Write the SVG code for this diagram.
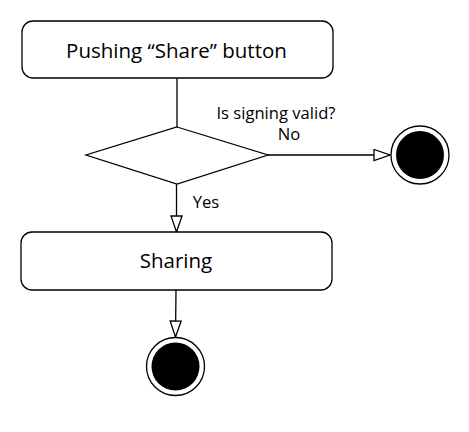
<svg xmlns="http://www.w3.org/2000/svg" width="469" height="432" viewBox="0 0 469 432">
<defs>
<style>
.box{fill:#fff;stroke:#000;stroke-width:1.3}
.edge{fill:none;stroke:#000;stroke-width:1.3}
.lbl{font-family:"Open Sans","Liberation Sans",Arial,sans-serif;fill:#000}
.ring{fill:#fff;stroke:#000;stroke-width:1.3}
.dot{fill:#000}
</style>
<marker id="open" markerUnits="userSpaceOnUse" markerWidth="20" markerHeight="14" refX="17" refY="6.5" orient="auto">
<path d="M1,1 L17,6.5 L1,12 Z" fill="#fff" stroke="#000" stroke-width="1.3"/>
</marker>
</defs>
<rect width="469" height="432" fill="#fff"/>
<g id="connectors">
<line class="edge" x1="177" y1="78" x2="177" y2="127"/>
<line class="edge" x1="268" y1="155" x2="390" y2="155" marker-end="url(#open)"/>
<line class="edge" x1="176.5" y1="184" x2="176.5" y2="232" marker-end="url(#open)"/>
<line class="edge" x1="176" y1="290" x2="175.5" y2="337" marker-end="url(#open)"/>
</g>
<g id="push">
<rect class="box" x="22" y="21" width="311" height="57" rx="11"/>
<text class="lbl" x="176.5" y="57.5" font-size="20.5" text-anchor="middle">Pushing “Share” button</text>
</g>
<g id="decision">
<polygon class="box" points="177,127 268,155 177,184 86,155"/>
<text class="lbl" x="276" y="119" font-size="16.6" text-anchor="middle">Is signing valid?</text>
<text class="lbl" x="289" y="140" font-size="16.6" text-anchor="middle">No</text>
<text class="lbl" x="206" y="208" font-size="16.6" text-anchor="middle">Yes</text>
</g>
<g id="end1">
<circle class="ring" cx="420" cy="155" r="29"/>
<circle class="dot" cx="420" cy="155" r="24"/>
</g>
<g id="sharing">
<rect class="box" x="21" y="232" width="311" height="58" rx="11"/>
<text class="lbl" x="176" y="268" font-size="20.5" text-anchor="middle">Sharing</text>
</g>
<g id="end2">
<circle class="ring" cx="175.5" cy="366.5" r="29"/>
<circle class="dot" cx="175.5" cy="366.5" r="24"/>
</g>
</svg>
